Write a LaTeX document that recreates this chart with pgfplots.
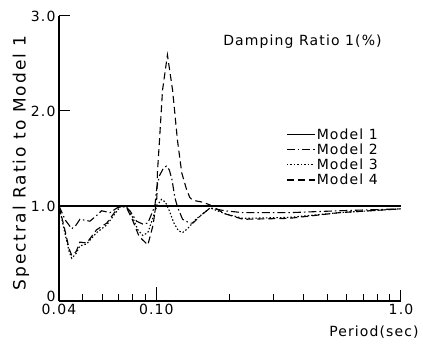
\documentclass[border=0pt]{standalone}
\usepackage{fontspec}
\setmainfont{DejaVu Sans}[LetterSpace=8]
\newfontfamily\ylfont{DejaVu Sans}[LetterSpace=12]
\usepackage{pgfplots}
\pgfplotsset{compat=1.18}
\begin{document}
\begin{tikzpicture}
\begin{axis}[
  scale only axis, width=342pt, height=285pt,
  xmode=log, xmin=0.04, xmax=1.0, ymin=0, ymax=3,
  axis lines*=left,
  axis line style={line width=1.3pt},
  tick align=inside,
  xtick={0.04,1}, xticklabels={0.04,1.0},
  extra x ticks={0.1}, extra x tick labels={0.10},
  extra x tick style={major tick length=14pt},
  minor xtick={0.05,0.06,0.07,0.08,0.09,0.2,0.3,0.4,0.5,0.6,0.7,0.8,0.9},
  ytick={1,2,3}, yticklabels={1.0,2.0,3.0},
  extra y ticks={0}, extra y tick labels={0},
  extra y tick style={yticklabel style={yshift=5pt}},
  major tick length=11pt, minor tick length=7pt,
  tick style={black, line width=1pt},
  /pgf/number format/assume math mode=true,
  ticklabel style={font=\fontsize{14}{16}\selectfont},
  xlabel={Period(sec)},
  ylabel={Spectral Ratio to Model 1},
  xlabel style={font=\fontsize{14}{16}\selectfont, at={(axis description cs:1.062,-0.109)}, anchor=east},
  ylabel style={font=\ylfont\fontsize{17}{19}\selectfont, at={(axis description cs:-0.111,0.484)}, anchor=center},
  legend style={draw=none, fill=none, at={(rel axis cs:0.655,0.618)}, anchor=north west,
    font=\fontsize{14}{16}\selectfont, nodes={inner sep=1.5pt}, cells={anchor=west}},
  legend image code/.code={\draw[#1] (0pt,0pt) -- (28pt,0pt);},
]
\addplot[black, solid, no marks, line width=1.1pt] coordinates {(0.04,1) (1,1)};
\addlegendentry{Model 1}
\addplot[black, line width=1.1pt, dash pattern=on 8pt off 3pt on 1.5pt off 3pt] coordinates {
(0.04,1.0) (0.0425,0.85) (0.0451,0.76) (0.047,0.80) (0.0487,0.86) (0.0535,0.84)
(0.057,0.90) (0.0597,0.95) (0.0646,0.93) (0.071,1.0) (0.0744,1.0) (0.078,0.95)
(0.083,0.84) (0.088,0.81) (0.0923,0.82) (0.0986,1.0) (0.1005,1.2) (0.103,1.32)
(0.107,1.40) (0.110,1.42) (0.113,1.38) (0.116,1.27) (0.119,1.09) (0.122,0.99)
(0.128,0.86) (0.137,0.82) (0.141,0.82) (0.152,0.90) (0.166,0.98) (0.19,0.95)
(0.226,0.93) (0.35,0.93) (0.56,0.95) (1.0,0.97)};
\addlegendentry{Model 2}
\addplot[black, line width=1.1pt, dash pattern=on 1.5pt off 2pt] coordinates {
(0.04,1.0) (0.042,0.75) (0.044,0.52) (0.0451,0.45) (0.047,0.50) (0.0487,0.58)
(0.0519,0.60) (0.057,0.72) (0.0627,0.80) (0.0696,0.96) (0.0721,1.0) (0.076,0.98)
(0.080,0.88) (0.084,0.75) (0.088,0.69) (0.0923,0.72) (0.097,0.88) (0.1005,1.0)
(0.105,1.07) (0.109,1.04) (0.113,0.95) (0.118,0.82) (0.123,0.74) (0.128,0.72)
(0.134,0.76) (0.145,0.86) (0.166,0.98) (0.19,0.92) (0.226,0.87) (0.35,0.88)
(0.56,0.93) (1.0,0.97)};
\addlegendentry{Model 3}
\addplot[black, line width=1.1pt, dash pattern=on 7pt off 4pt] coordinates {
(0.04,1.0) (0.042,0.78) (0.044,0.55) (0.0451,0.48) (0.047,0.52) (0.0487,0.62)
(0.0519,0.61) (0.057,0.75) (0.0627,0.82) (0.0696,0.98) (0.0721,1.0) (0.076,0.97)
(0.080,0.85) (0.085,0.68) (0.0923,0.59) (0.097,0.80) (0.1005,1.09) (0.101,1.35)
(0.103,1.69) (0.106,2.22) (0.111,2.59) (0.1165,2.22) (0.122,1.69) (0.127,1.35)
(0.133,1.17) (0.137,1.09) (0.141,1.06) (0.155,1.04) (0.166,1.01) (0.19,0.92)
(0.226,0.86) (0.35,0.87) (0.56,0.93) (1.0,0.97)};
\addlegendentry{Model 4}
\node[font=\fontsize{14}{16}\selectfont] at (rel axis cs:0.712,0.909) {Damping Ratio 1(\%)};
\coordinate (ll) at (rel axis cs:0,0);
\coordinate (ur) at (rel axis cs:1,1);
\end{axis}
\pgfresetboundingbox
\path ([shift={(-59pt,-42pt)}]ll) rectangle ([shift={(22pt,16pt)}]ur);
\end{tikzpicture}
\end{document}
